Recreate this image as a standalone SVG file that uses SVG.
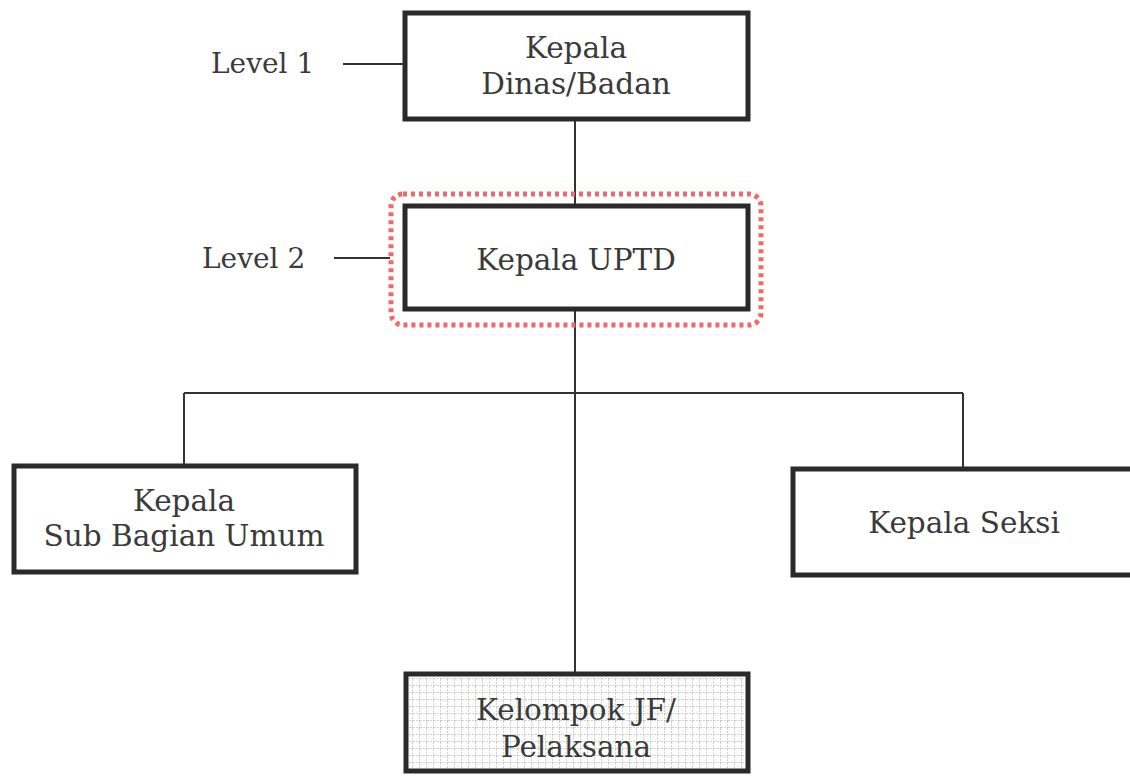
<svg xmlns="http://www.w3.org/2000/svg" width="1130" height="779" viewBox="0 0 1130 779">
<style>
.box{fill:#fff;stroke:#2a2a2a;stroke-width:5}
.t{font-family:"DejaVu Serif","Liberation Serif",serif;font-size:29.5px;fill:#3a3a3a;text-anchor:middle}
.lbl{font-family:"DejaVu Serif","Liberation Serif",serif;font-size:28px;fill:#3a3a3a}
.c{stroke:#333;stroke-width:2;fill:none}
</style>
<defs>
<pattern id="grid" width="7" height="7" patternUnits="userSpaceOnUse">
<path d="M7 0V7M0 7H7" stroke="#a8a8a8" stroke-width="1" stroke-dasharray="2 1"/>
</pattern>
</defs>
<rect width="1130" height="779" fill="#fff"/>
<g id="connectors">
<line class="c" x1="575" y1="120" x2="575" y2="205"/>
<line class="c" x1="575" y1="310" x2="575" y2="674"/>
<line class="c" x1="184" y1="393" x2="963" y2="393"/>
<line class="c" x1="184" y1="393" x2="184" y2="466"/>
<line class="c" x1="963" y1="393" x2="963" y2="469"/>
<line class="c" x1="343" y1="64" x2="404" y2="64"/>
<line class="c" x1="334" y1="258" x2="390" y2="258"/>
</g>
<g id="level1"><text class="lbl" x="211" y="73">Level 1</text></g>
<g id="level2"><text class="lbl" x="202" y="268">Level 2</text></g>
<g id="kepala-dinas">
<rect class="box" x="405" y="13" width="343" height="106"/>
<text class="t" x="576" y="58">Kepala</text>
<text class="t" x="576" y="94">Dinas/Badan</text>
</g>
<g id="kepala-uptd">
<rect x="391" y="194" width="370" height="131" rx="12" fill="none" stroke="#f06868" stroke-width="5" stroke-dasharray="4 4"/>
<rect class="box" x="405" y="206" width="343" height="103"/>
<text class="t" x="576" y="270">Kepala UPTD</text>
</g>
<g id="kasubag">
<rect class="box" x="14" y="466" width="342" height="106"/>
<text class="t" x="184" y="511">Kepala</text>
<text class="t" x="184" y="546">Sub Bagian Umum</text>
</g>
<g id="kasi">
<rect class="box" x="793" y="469" width="345" height="106"/>
<text class="t" x="964" y="533">Kepala Seksi</text>
</g>
<g id="kelompok-jf">
<rect class="box" x="406" y="674" width="342" height="97"/>
<rect x="409" y="677" width="336" height="91" fill="url(#grid)"/>
<text class="t" x="576" y="720">Kelompok JF/</text>
<text class="t" x="576" y="757">Pelaksana</text>
</g>
</svg>
